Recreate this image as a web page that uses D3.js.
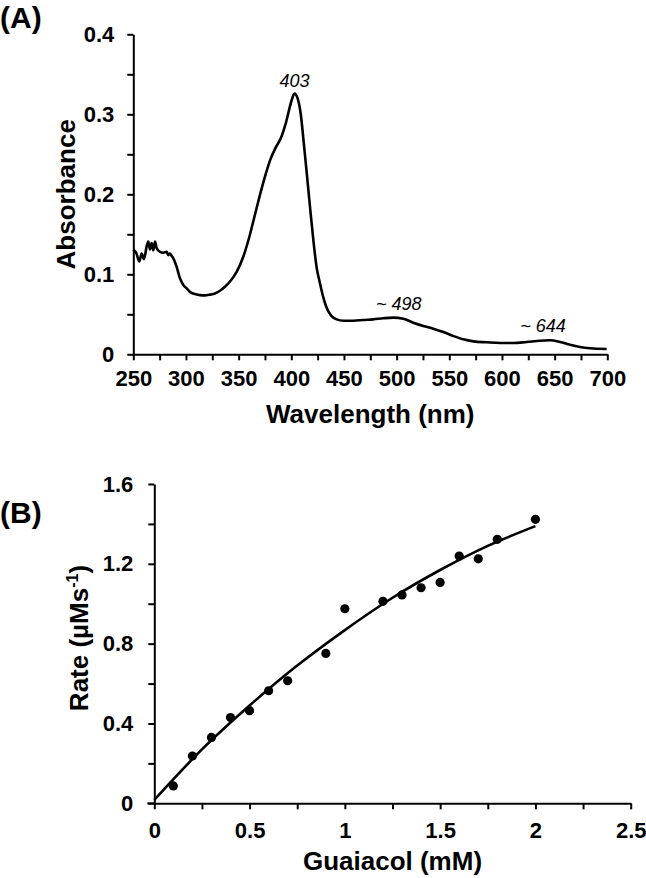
<!DOCTYPE html>
<html>
<head>
<meta charset="utf-8">
<script src="https://cdn.jsdelivr.net/npm/d3@7"></script>
<style>
  html, body { margin: 0; padding: 0; background: #fff; }
  svg { display: block; font-family: "Liberation Sans", Arial, sans-serif; }
</style>
</head>
<body>
<svg id="chart" width="646" height="878"></svg>
<script>
// ---------- Panel A data: UV-vis spectrum ----------
const wavelengths = [250,253,255.7,257.9,260.1,262.7,264.3,265.8,267.4,269,270.6,272.2,275.3,278.5,281.7,283.2,284.8,286.4,288,291.1,294.3,297.5,300.7,303.8,308.6,313.3,318,322.8,327.5,332.3,337,341.8,348.1,354.4,360,365,370,375,380,385,390,395,400,403,406,409,412,415,418,421,424,427,430,433,438,443,449.4,458.9,468.4,477.8,487.3,496.8,506.3,515.8,525.3,534.8,544.3,553.8,563.3,572.8,585.5,598.1,610.8,623.4,636.1,645.6,655.1,664.6,674.1,683.6,699.4];
const absorbance  = [0.131,0.126,0.116,0.126,0.119,0.135,0.141,0.131,0.139,0.130,0.141,0.1325,0.128,0.127,0.128,0.124,0.126,0.123,0.120,0.1095,0.095,0.0866,0.0825,0.078,0.0754,0.074,0.0737,0.0746,0.076,0.0795,0.0845,0.091,0.103,0.122,0.146,0.172,0.198,0.222,0.243,0.258,0.270,0.290,0.316,0.326,0.320,0.300,0.262,0.222,0.181,0.142,0.109,0.090,0.073,0.060,0.048,0.0437,0.042,0.042,0.0429,0.0437,0.045,0.0458,0.0445,0.0395,0.0354,0.032,0.0279,0.0229,0.0187,0.0162,0.015,0.0141,0.0141,0.0154,0.017,0.0175,0.0154,0.012,0.0091,0.0075,0.0066];
const peakLabels = ["403", "~ 498", "~ 644"];
const peakLabelX = [403, 502, 639];
const peakLabelY = [0.334, 0.055, 0.028];
const xTicksA = [250,275,300,325,350,375,400,425,450,475,500,525,550,575,600,625,650,675,700];
const xLabelsA = [250,300,350,400,450,500,550,600,650,700];
const yTicksA = [0,0.05,0.1,0.15,0.2,0.25,0.3,0.35,0.4];
const yLabelsA = [0,0.1,0.2,0.3,0.4];

// ---------- Panel B data: kinetics ----------
const guaiacol = [0.1,0.2,0.3,0.4,0.5,0.6,0.7,0.9,1.0,1.2,1.3,1.4,1.5,1.6,1.7,1.8,2.0];
const rate     = [0.087,0.237,0.33,0.43,0.464,0.564,0.614,0.751,0.975,1.012,1.044,1.08,1.107,1.239,1.225,1.323,1.423];
const fitX = [0,0.25,0.5,0.75,1.0,1.25,1.5,1.75,2.0];
const fitY = [0.017,0.27,0.49,0.69,0.868,1.03,1.169,1.29,1.389];
const xTicksB = [0,0.25,0.5,0.75,1,1.25,1.5,1.75,2,2.25,2.5];
const xLabelsB = [0,0.5,1,1.5,2,2.5];
const yTicksB = [0,0.2,0.4,0.6,0.8,1.0,1.2,1.4,1.6];
const yLabelsB = [0,0.4,0.8,1.2,1.6];

const svg = d3.select("#chart");
const near = (arr, v) => arr.some(a => Math.abs(a - v) < 1e-9);

function styleAxis(g, fs) {
  g.select(".domain").attr("stroke", "#000").attr("stroke-width", 2);
  g.selectAll(".tick line").attr("stroke", "#000").attr("stroke-width", 2);
  g.selectAll(".tick text").attr("fill", "#000").attr("font-size", fs)
    .attr("font-weight", "bold").attr("font-family", "Liberation Sans, Arial, sans-serif");
}

// ================= Panel A =================
const xA = d3.scaleLinear().domain([250, 700]).range([133.3, 607.3]);
const yA = d3.scaleLinear().domain([0, 0.4]).range([354.3, 34.3]);

const gxA = svg.append("g").attr("transform", `translate(0,${yA(0)})`)
  .call(d3.axisBottom(xA).tickValues(xTicksA).tickSize(6).tickSizeOuter(0).tickPadding(10)
    .tickFormat(d => near(xLabelsA, d) ? d : ""));
styleAxis(gxA, 22);

const gyA = svg.append("g").attr("transform", `translate(${xA(250)},0)`)
  .call(d3.axisLeft(yA).tickValues(yTicksA).tickSize(6).tickSizeOuter(0).tickPadding(13)
    .tickFormat(d => near(yLabelsA, d) ? (d === 0 ? "0" : d3.format(".1f")(d)) : ""));
styleAxis(gyA, 22);

svg.append("path")
  .datum(wavelengths.map((w, i) => [w, absorbance[i]]))
  .attr("fill", "none").attr("stroke", "#000").attr("stroke-width", 2.6)
  .attr("stroke-linejoin", "round")
  .attr("d", d3.line().x(d => xA(d[0])).y(d => yA(d[1])).curve(d3.curveMonotoneX));

peakLabels.forEach((t, i) => {
  svg.append("text").attr("x", xA(peakLabelX[i])).attr("y", yA(peakLabelY[i]))
    .attr("text-anchor", "middle").attr("font-size", 18).attr("font-style", "italic")
    .attr("fill", "#000").text(t);
});

svg.append("text").attr("x", (xA(250) + xA(700)) / 2).attr("y", 422.7)
  .attr("text-anchor", "middle").attr("font-size", 26).attr("font-weight", "bold")
  .text("Wavelength (nm)");
svg.append("text").attr("transform", `translate(75,${(yA(0) + yA(0.4)) / 2}) rotate(-90)`)
  .attr("text-anchor", "middle").attr("font-size", 26).attr("font-weight", "bold")
  .text("Absorbance");
svg.append("text").attr("x", 0).attr("y", 28).attr("font-size", 30).attr("font-weight", "bold").text("(A)");

// ================= Panel B =================
const xB = d3.scaleLinear().domain([0, 2.5]).range([154.3, 630.7]);
const yB = d3.scaleLinear().domain([0, 1.6]).range([803.3, 484]);

const gxB = svg.append("g").attr("transform", `translate(0,${yB(0)})`)
  .call(d3.axisBottom(xB).tickValues(xTicksB).tickSize(6).tickSizeOuter(0).tickPadding(13)
    .tickFormat(d => near(xLabelsB, d) ? String(d) : ""));
styleAxis(gxB, 22);
// short extension of the x axis to the left of the y axis
gxB.append("line").attr("x1", xB(0) - 7).attr("x2", xB(0)).attr("y1", 0).attr("y2", 0)
  .attr("stroke", "#000").attr("stroke-width", 2);

const gyB = svg.append("g").attr("transform", `translate(${xB(0)},0)`)
  .call(d3.axisLeft(yB).tickValues(yTicksB).tickSize(6).tickSizeOuter(0).tickPadding(15)
    .tickFormat(d => near(yLabelsB, d) ? (d === 0 ? "0" : d3.format(".1f")(d)) : ""));
styleAxis(gyB, 22);

svg.append("path")
  .datum(fitX.map((x, i) => [x, fitY[i]]))
  .attr("fill", "none").attr("stroke", "#000").attr("stroke-width", 2.6)
  .attr("d", d3.line().x(d => xB(d[0])).y(d => yB(d[1])).curve(d3.curveMonotoneX));

svg.append("g").selectAll("circle")
  .data(guaiacol.map((x, i) => [x, rate[i]]))
  .join("circle")
  .attr("cx", d => xB(d[0])).attr("cy", d => yB(d[1])).attr("r", 4.6).attr("fill", "#000");

svg.append("text").attr("x", (xB(0) + xB(2.5)) / 2).attr("y", 870)
  .attr("text-anchor", "middle").attr("font-size", 26).attr("font-weight", "bold")
  .text("Guaiacol (mM)");
const rl = svg.append("text").attr("transform", `translate(88,638) rotate(-90)`)
  .attr("text-anchor", "middle").attr("font-size", 26).attr("font-weight", "bold");
rl.append("tspan").text("Rate (µMs");
rl.append("tspan").attr("font-size", 16).attr("dy", -10).text("-1");
rl.append("tspan").attr("dy", 10).text(")");
svg.append("text").attr("x", 0).attr("y", 523).attr("font-size", 30).attr("font-weight", "bold").text("(B)");
</script>
</body>
</html>
